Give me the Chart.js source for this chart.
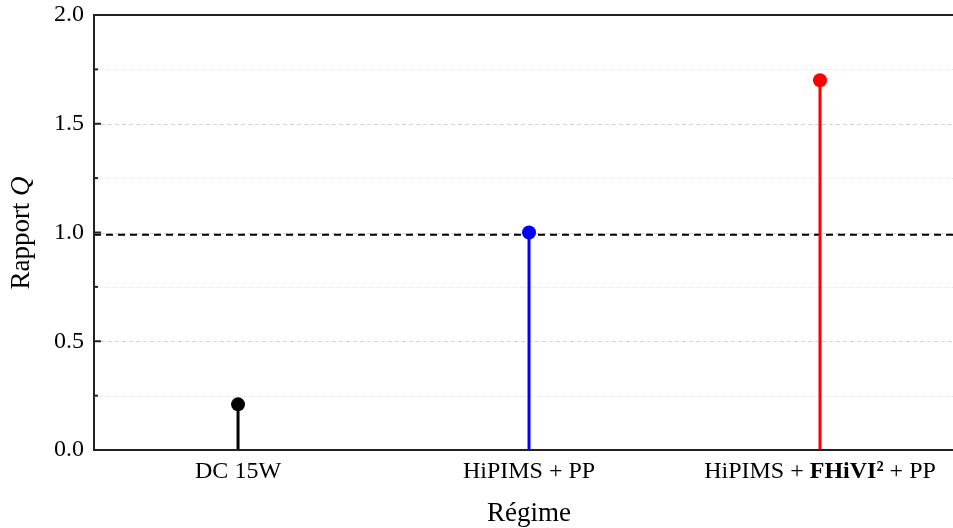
<!DOCTYPE html>
<html>
<head>
<meta charset="utf-8">
<script src="https://cdn.jsdelivr.net/npm/chart.js@4/dist/chart.umd.min.js"></script>
<style>
html,body{margin:0;padding:0;background:#fff;}
#wrap{width:953px;height:528px;position:relative;}
</style>
</head>
<body>
<div id="wrap"><canvas id="c" width="953" height="528"></canvas></div>
<script>
// ---- data ----
const categories = ["DC 15W", "HiPIMS + PP", "HiPIMS + FHiVI² + PP"];
// label parts: [text, bold]
const categoryLabelParts = [
  [["DC 15W", false]],
  [["HiPIMS + PP", false]],
  [["HiPIMS + ", false], ["FHiVI²", true], [" + PP", false]]
];
const qValues = [0.21, 1.00, 1.70];
const stemColors = ["#000000", "#0000ff", "#ff0000"];
const referenceQ = 0.99;
const yTicks = [0, 0.5, 1.0, 1.5, 2.0];
const yMinorTicks = [0.25, 0.75, 1.25, 1.75];
const xTitle = "Régime";
const yTitleParts = [["Rapport ", false], ["Q", true]];

const X_MIN = 0.505, X_MAX = 3.433, X_EDGE = 3.46;
const FONT = "'Liberation Serif', 'Times New Roman', serif";

const datasets = categories.map((c, i) => ({
  label: c,
  data: [{x: i + 1, y: 0}, {x: i + 1, y: qValues[i]}],
  borderColor: stemColors[i],
  backgroundColor: stemColors[i],
  borderWidth: 3,
  pointRadius: (ctx) => ctx.dataIndex === 1 ? 7 : 0,
  pointHoverRadius: (ctx) => ctx.dataIndex === 1 ? 7 : 0,
  pointBorderWidth: 0,
  showLine: true,
  order: 1
}));
datasets.push({
  label: "ref",
  data: [{x: X_MIN, y: referenceQ}, {x: X_EDGE, y: referenceQ}],
  borderColor: "#000",
  borderWidth: 2,
  borderDash: [7, 5],
  pointRadius: 0,
  showLine: true,
  clip: false,
  order: 2
});

function drawParts(ctx, parts, size, x, y, align, italicFlag) {
  const style = (p) => (p[1] ? (italicFlag ? "italic " : "bold ") : "") + size + "px " + FONT;
  let widths = parts.map(p => { ctx.font = style(p); return ctx.measureText(p[0]).width; });
  let total = widths.reduce((a, b) => a + b, 0);
  let start = align === "center" ? x - total / 2 : x;
  parts.forEach((p, i) => {
    ctx.font = style(p);
    ctx.textAlign = "left";
    ctx.fillText(p[0], start, y);
    start += widths[i];
  });
}

const deco = {
  id: "deco",
  beforeDatasetsDraw(chart) {
    const {ctx, chartArea: a, scales: {x, y}} = chart;
    const R = chart.width;
    ctx.save();
    ctx.lineWidth = 1;
    ctx.strokeStyle = "#e4e4e4";
    ctx.setLineDash([1, 1]);
    yMinorTicks.forEach(v => {
      const py = Math.round(y.getPixelForValue(v)) + 0.5;
      ctx.beginPath(); ctx.moveTo(a.left, py); ctx.lineTo(R, py); ctx.stroke();
    });
    ctx.strokeStyle = "#d4d4d4";
    ctx.setLineDash([4, 3]);
    yTicks.forEach(v => {
      if (v === 0 || v === 2) return;
      const py = Math.round(y.getPixelForValue(v)) + 0.5;
      ctx.beginPath(); ctx.moveTo(a.left, py); ctx.lineTo(R, py); ctx.stroke();
    });
    ctx.restore();
  },
  afterDraw(chart) {
    const {ctx, chartArea: a, scales: {x, y}} = chart;
    const R = chart.width;
    ctx.save();
    ctx.setLineDash([]);
    ctx.strokeStyle = "#222";
    ctx.lineWidth = 2;
    ctx.beginPath();
    ctx.moveTo(R, a.top); ctx.lineTo(a.left, a.top); ctx.lineTo(a.left, a.bottom); ctx.lineTo(R, a.bottom);
    ctx.stroke();
    yTicks.forEach(v => {
      const py = y.getPixelForValue(v);
      ctx.beginPath(); ctx.moveTo(a.left, py); ctx.lineTo(a.left + 7, py); ctx.stroke();
    });
    yMinorTicks.forEach(v => {
      const py = y.getPixelForValue(v);
      ctx.beginPath(); ctx.moveTo(a.left, py); ctx.lineTo(a.left + 4, py); ctx.stroke();
    });
    ctx.fillStyle = "#000";
    ctx.font = "24px " + FONT;
    ctx.textAlign = "right";
    ctx.textBaseline = "middle";
    yTicks.forEach(v => {
      ctx.fillText(v.toFixed(1), a.left - 10, y.getPixelForValue(v));
    });
    ctx.textBaseline = "alphabetic";
    categoryLabelParts.forEach((parts, i) => {
      drawParts(ctx, parts, 24, x.getPixelForValue(i + 1), 478, "center", false);
    });
    drawParts(ctx, [[xTitle, false]], 27, 529, 521, "center", false);
    ctx.save();
    ctx.translate(29, 233);
    ctx.rotate(-Math.PI / 2);
    drawParts(ctx, yTitleParts, 27, 0, 0, "center", true);
    ctx.restore();
    ctx.restore();
  }
};

new Chart(document.getElementById("c"), {
  type: "scatter",
  data: {datasets},
  options: {
    responsive: false,
    animation: false,
    events: [],
    layout: {padding: {top: 15, right: 0, left: 0, bottom: 0}},
    plugins: {legend: {display: false}, tooltip: {enabled: false}},
    scales: {
      x: {
        type: "linear", min: X_MIN, max: X_MAX,
        grid: {display: false, drawTicks: false},
        border: {display: false},
        ticks: {display: false},
        afterFit(s) { s.height = 78; }
      },
      y: {
        type: "linear", min: 0, max: 2,
        grid: {display: false, drawTicks: false},
        border: {display: false},
        ticks: {display: false, stepSize: 0.5},
        afterFit(s) { s.width = 94; }
      }
    }
  },
  plugins: [deco]
});
</script>
</body>
</html>
